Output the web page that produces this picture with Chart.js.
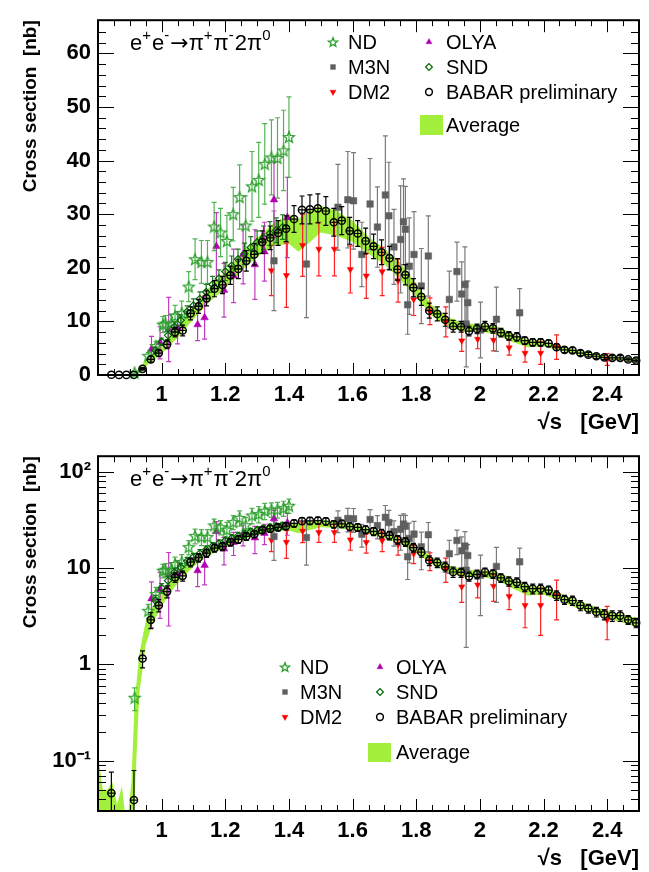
<!DOCTYPE html>
<html lang="en">
<head>
<meta charset="UTF-8" />
<title>e+e- to pi+pi-2pi0 cross section</title>
<script src="https://cdn.jsdelivr.net/npm/chart.js"></script>
<style>
  body { margin: 0; background: #fff; }
  canvas { display: block; }
</style>
</head>
<body>
<canvas id="linPad" width="649" height="436"></canvas>
<canvas id="logPad" width="649" height="436"></canvas>
<script>
// ---- data (sqrt(s) in GeV, cross section in nb) ----
const babarE = [0.842,0.866,0.889,0.913,0.940,0.966,0.991,1.017,1.042,1.066,
  1.091,1.116,1.141,1.166,1.191,1.216,1.241,1.266,1.291,1.316,
  1.341,1.366,1.391,1.416,1.441,1.466,1.491,1.516,1.541,1.566,
  1.591,1.616,1.641,1.666,1.691,1.716,1.741,1.766,1.791,1.816,
  1.841,1.866,1.891,1.916,1.941,1.966,1.991,2.016,2.041,2.066,
  2.091,2.116,2.141,2.166,2.191,2.216,2.241,2.266,2.291,2.316,
  2.341,2.366,2.391,2.416,2.441,2.466,2.491];
const babarXS = [0.046,0.02,0.02,0.039,1.15,2.9,4.1,5.7,8.0,8.3,
  11.5,12.8,14.3,16.1,16.8,18.6,19.8,21.3,22.5,24.8,
  25.6,26.5,27.3,29.1,30.8,30.9,31.1,30.6,28.5,28.8,
  26.9,26.4,25.0,24.0,22.9,21.8,19.7,18.7,16.3,14.6,
  12.0,11.4,10.3,9.1,9.0,8.2,8.6,9.1,8.7,7.9,
  7.3,7.1,6.4,6.1,6.1,5.9,5.2,4.7,4.6,4.1,
  3.8,3.5,3.3,3.2,3.2,2.9,2.7];
const babarErr = [0.03,0.005,0.005,0.04,0.23,0.55,0.6,0.8,0.9,1.0,
  1.2,1.3,1.4,1.5,1.6,1.7,1.8,1.9,2.0,2.1,
  2.2,2.3,2.4,2.5,2.6,2.7,2.7,2.7,2.6,2.6,
  2.5,2.4,2.4,2.3,2.3,2.2,2.0,1.9,1.7,1.6,
  1.4,1.3,1.2,1.1,1.0,0.9,0.9,0.9,0.9,0.8,
  0.8,0.8,0.7,0.7,0.7,0.6,0.6,0.5,0.5,0.5,
  0.4,0.4,0.4,0.4,0.4,0.3,0.3];

const ndE   = [0.915,0.958,0.982,1.004,1.012,1.030,1.042,1.063,1.085,1.105,1.125,1.144,1.165,1.185,1.205,1.225,1.245,1.264,1.284,1.305,1.324,1.345,1.364,1.383,1.400];
const ndXS  = [0.45,3.6,5.4,9.4,9.6,9.6,11.0,11.6,16.5,21.6,21.1,21.1,27.7,26.6,25.0,30.0,33.2,27.9,35.2,36.4,39.4,40.6,40.5,41.9,44.4];
const ndErr = [0.12,0.6,0.9,1.5,1.5,1.8,2.0,2.2,2.8,3.8,4.0,4.0,4.5,4.5,4.8,5.0,6.0,5.5,6.5,7.0,7.5,7.0,7.5,7.5,7.5];

const m3nE   = [1.353,1.455,1.554,1.585,1.603,1.629,1.655,1.678,1.703,1.714,1.730,1.751,1.760,1.766,1.773,1.778,1.793,1.816,1.838,1.904,1.928,1.943,1.953,1.957,1.962,2.002,2.052,2.125];
const m3nXS  = [21.3,20.7,31.3,32.7,32.5,22.5,31.9,27.6,33.6,29.7,23.9,25.3,28.6,27.2,13.1,20.3,22.5,16.6,22.2,14.1,19.3,15.1,16.9,9.5,13.5,8.4,10.4,11.6];
const m3nErr = [9.3,10,8,9,9,6,8.5,7.5,11,10,7,10,8,8,5.5,9,8,7,7.5,5.3,5.5,6,7,8,4,5.2,6,4.5];

const dm2E   = [1.345,1.392,1.443,1.494,1.543,1.593,1.643,1.693,1.743,1.792,1.843,1.893,1.943,1.993,2.043,2.092,2.142,2.191,2.241,2.400];
const dm2XS  = [19.5,18.6,24.2,23.5,23.5,19.7,18.5,19.3,17.6,14.1,11.9,9.9,6.4,6.7,6.5,5.1,4.1,4.1,5.2,2.9];
const dm2Err = [4.7,6.0,5.8,5.0,5.0,4.4,4.2,4.5,4.0,3.0,2.5,2.8,2.0,1.8,2.0,1.4,1.7,2.1,2.3,1.1];

const olyaE   = [0.968,0.995,1.022,1.050,1.113,1.135,1.172,1.196,1.226,1.256,1.293,1.323,1.353,1.395];
const olyaXS  = [4.8,6.0,8.5,8.8,9.4,10.7,24.0,15.8,18.5,22.5,20.6,23.0,32.7,29.4];
const olyaErr = [2.4,3.0,6.0,3.0,3.0,4.0,6.3,5.0,5.0,5.5,6.5,5.5,7.0,7.5];

const sndE   = [0.980,1.000,1.020,1.040,1.060,1.080,1.100,1.120,1.140,1.160,1.180,1.200,1.220,1.240,1.260,1.280,1.300,1.320,1.340,1.360,1.380];
const sndXS  = [4.6,6.2,7.4,9.0,10.2,11.8,13.0,14.2,15.5,16.9,18.0,19.3,20.4,21.6,22.6,23.8,24.8,25.6,26.4,27.0,27.6];
const sndErr = [0.6,0.7,0.8,0.9,1.0,1.1,1.2,1.3,1.4,1.5,1.6,1.7,1.8,1.9,2.0,2.0,2.1,2.2,2.2,2.3,2.3];

// average band: lower and upper edges
const avgE  = [0.800,0.815,0.830,0.845,0.860,0.875,0.890,0.905,0.915,0.930,0.950,0.970,1.000,1.030,1.060,1.100,1.150,1.200,1.250,1.300,1.350,1.400,1.430,1.460,1.500,1.550,1.600,1.650,1.700,1.750,1.800,1.850,1.900,1.950,2.000,2.050,2.100,2.150,2.200,2.250,2.300,2.350,2.400,2.450,2.500];
const avgLo = [0.001,0.001,0.001,0.001,0.001,0.001,0.001,0.001,0.04,0.5,1.6,2.6,4.0,5.7,7.6,10.4,13.6,16.2,19.4,22.0,24.0,24.5,23.0,24.5,26.6,26.0,24.8,22.6,20.6,17.8,14.4,11.0,9.0,8.0,8.1,7.6,6.2,5.2,5.3,4.6,3.9,3.4,3.0,2.7,2.4];
const avgHi = [0.12,0.05,0.05,0.06,0.035,0.055,0.02,0.06,0.4,1.3,2.8,3.9,5.6,7.6,9.8,12.8,16.4,19.2,22.6,25.6,28.2,30.0,29.0,30.8,31.6,30.6,28.8,25.8,23.6,21.0,17.0,13.0,10.8,9.6,9.5,9.2,7.8,6.6,6.4,5.5,4.7,4.1,3.6,3.3,3.0];

const xTickLabels = [1, 1.2, 1.4, 1.6, 1.8, 2, 2.2, 2.4];
const linTickLabels = [0, 10, 20, 30, 40, 50, 60];
const logTickLabels = { 0.1: '10\u207b\u00b9', 1: '1', 10: '10', 100: '10\u00b2' };

const bandColor = '#a3f03c';
const font = '"Liberation Sans", Arial, Helvetica, sans-serif';

function starImage(color, size) {
  const c = document.createElement('canvas');
  c.width = size; c.height = size;
  const g = c.getContext('2d');
  const h = size / 2, R = h - 1.2;
  g.strokeStyle = color; g.lineWidth = 1.3;
  g.beginPath();
  for (let k = 0; k < 10; k++) {
    const r = k % 2 ? R * 0.43 : R;
    const a = -Math.PI / 2 + k * Math.PI / 5;
    const px = h + r * Math.cos(a), py = h + 0.5 + r * Math.sin(a);
    if (k) g.lineTo(px, py); else g.moveTo(px, py);
  }
  g.closePath(); g.stroke();
  return c;
}
const starImg = starImage('#2ca02c', 14);
const starLegend = starImage('#2ca02c', 12);

const pts = (xs, ys) => xs.map((x, i) => ({ x, y: ys[i] }));
const markerClip = { left: 6, right: 6, top: 0, bottom: 5 };

function makeDatasets() {
  return [
    { label: 'lo', data: pts(avgE, avgLo), showLine: true, pointRadius: 0, borderColor: 'rgba(0,0,0,0)', borderWidth: 0, fill: false, order: 9, clip: 0 },
    { label: 'Average', data: pts(avgE, avgHi), showLine: true, pointRadius: 0, borderColor: 'rgba(0,0,0,0)', borderWidth: 0, fill: '-1', backgroundColor: bandColor, order: 8, clip: 0 },
    { label: 'DM2', data: pts(dm2E, dm2XS), err: dm2Err, errColor: '#ff2020', pointStyle: 'triangle', rotation: 180, pointRadius: 3.6, pointBorderWidth: 0.5, pointBackgroundColor: '#ff0000', pointBorderColor: '#ff0000', order: 7, clip: markerClip },
    { label: 'M3N', data: pts(m3nE, m3nXS), err: m3nErr, errColor: '#7a7a7a', pointStyle: 'rect', pointRadius: 4.6, pointBorderWidth: 0.5, pointBackgroundColor: '#5f5f5f', pointBorderColor: '#5f5f5f', order: 6, clip: markerClip },
    { label: 'OLYA', data: pts(olyaE, olyaXS), err: olyaErr, errColor: '#c13cc1', pointStyle: 'triangle', pointRadius: 4.4, pointBorderWidth: 0.5, pointBackgroundColor: '#b000b0', pointBorderColor: '#b000b0', order: 5, clip: markerClip },
    { label: 'ND', data: pts(ndE, ndXS), err: ndErr, errColor: 'rgba(40,160,40,0.8)', pointStyle: starImg, legendStyle: starLegend, pointRadius: 5, order: 4, clip: markerClip },
    { label: 'SND', data: pts(sndE, sndXS), err: sndErr, errColor: '#1a7a1a', pointStyle: 'rectRot', pointRadius: 3.6, pointBorderWidth: 1.2, pointBackgroundColor: 'rgba(0,0,0,0)', pointBorderColor: '#006400', order: 3, clip: markerClip },
    { label: 'BABAR preliminary', data: pts(babarE, babarXS), err: babarErr, xErr: 0.0125, errColor: '#000', pointStyle: 'circle', pointRadius: 3.6, pointBorderWidth: 1.5, pointBackgroundColor: 'rgba(0,0,0,0)', pointBorderColor: '#000', order: 1, clip: markerClip }
  ];
}

// error bars drawn under each dataset's markers
const errorBars = {
  id: 'errorBars',
  beforeDatasetDraw(chart, args) {
    const ds = chart.data.datasets[args.index];
    if (!ds.err) return;
    const { ctx, chartArea: a, scales: { x, y } } = chart;
    ctx.save();
    ctx.beginPath(); ctx.rect(a.left, a.top, a.right - a.left, a.bottom - a.top); ctx.clip();
    ctx.strokeStyle = ds.errColor; ctx.lineWidth = 1.2;
    ds.data.forEach((p, i) => {
      const px = x.getPixelForValue(p.x);
      const yt = y.getPixelForValue(p.y + ds.err[i]);
      const yb = y.getPixelForValue(Math.max(p.y - ds.err[i], 1e-5));
      ctx.beginPath();
      ctx.moveTo(px, yt); ctx.lineTo(px, yb);
      ctx.moveTo(px - 2.5, yt); ctx.lineTo(px + 2.5, yt);
      ctx.moveTo(px - 2.5, yb); ctx.lineTo(px + 2.5, yb);
      if (ds.xErr) {
        const py = y.getPixelForValue(p.y);
        ctx.moveTo(x.getPixelForValue(p.x - ds.xErr), py);
        ctx.lineTo(x.getPixelForValue(p.x + ds.xErr), py);
      }
      ctx.stroke();
    });
    ctx.restore();
  }
};

// frame with inward ticks on all four sides
const frame = {
  id: 'frame',
  afterDatasetsDraw(chart, args, opts) {
    const { ctx, chartArea: a, scales: { x, y } } = chart;
    ctx.save();
    ctx.strokeStyle = '#000'; ctx.lineWidth = 1;
    ctx.beginPath();
    const tx = (v, len) => {
      const p = Math.round(x.getPixelForValue(v)) + 0.5;
      ctx.moveTo(p, a.bottom); ctx.lineTo(p, a.bottom - len);
      ctx.moveTo(p, a.top); ctx.lineTo(p, a.top + len);
    };
    const ty = (v, len) => {
      const p = Math.round(y.getPixelForValue(v)) + 0.5;
      ctx.moveTo(a.left, p); ctx.lineTo(a.left + len, p);
      ctx.moveTo(a.right, p); ctx.lineTo(a.right - len, p);
    };
    for (let v = 0.85; v < 2.5; v += 0.05) tx(v, 6);
    xTickLabels.forEach(v => tx(v, 12));
    opts.yMinor.forEach(v => ty(v, 8));
    opts.yMajor.forEach(v => ty(v, 16));
    ctx.stroke();
    ctx.lineWidth = 2;
    ctx.strokeRect(a.left, a.top, a.right - a.left, a.bottom - a.top);
    ctx.restore();
  }
};

// reaction label and legend
const labels = {
  id: 'labels',
  afterDraw(chart, args, L) {
    const ctx = chart.ctx;
    ctx.save();
    ctx.fillStyle = '#000';
    ctx.textBaseline = 'alphabetic';
    const parts = [['e', 0], ['+', 1], ['e', 0], ['-', 1], ['\u2192', 2], ['\u03c0', 0], ['+', 1], ['\u03c0', 0], ['-', 1], ['2\u03c0', 0], ['0', 1]];
    let cx = 130;
    parts.forEach(([t, kind]) => {
      ctx.font = kind === 1 ? '15px ' + font : kind === 2 ? '22px "DejaVu Sans", sans-serif' : '22px ' + font;
      ctx.fillText(t, cx, kind === 1 ? 40 : 50);
      cx += ctx.measureText(t).width + (kind === 1 ? 1 : 0);
    });

    const byLabel = {};
    chart.data.datasets.forEach(d => { byLabel[d.label] = d; });
    const entries = [
      ['ND', L.c1m, L.c1t, L.rows[0]], ['M3N', L.c1m, L.c1t, L.rows[1]], ['DM2', L.c1m, L.c1t, L.rows[2]],
      ['OLYA', L.c2m, L.c2t, L.rows[0]], ['SND', L.c2m, L.c2t, L.rows[1]], ['BABAR preliminary', L.c2m, L.c2t, L.rows[2]]
    ];
    ctx.font = '20px ' + font;
    ctx.textBaseline = 'middle';
    entries.forEach(([name, mx, tx, ry]) => {
      const d = byLabel[name];
      ctx.save();
      ctx.fillStyle = d.pointBackgroundColor || 'rgba(0,0,0,0)';
      ctx.strokeStyle = d.pointBorderColor || '#000';
      ctx.lineWidth = d.pointBorderWidth || 1;
      Chart.helpers.drawPoint(ctx, { pointStyle: d.legendStyle || d.pointStyle, rotation: d.rotation || 0, radius: Math.min(d.pointRadius, 3.4), borderWidth: d.pointBorderWidth || 1 }, mx, ry);
      ctx.restore();
      ctx.fillText(name, tx, ry + 1);
    });
    ctx.fillStyle = bandColor;
    ctx.fillRect(L.box[0], L.box[1], L.box[2], L.box[3]);
    ctx.fillStyle = '#000';
    ctx.fillText('Average', L.c2t, L.box[1] + L.box[3] / 2 + 1);
    ctx.restore();
  }
};

function makeChart(id, logY, legend) {
  const yMajor = logY ? [0.1, 1, 10, 100] : linTickLabels;
  const yMinor = [];
  if (logY) {
    [0.01, 0.1, 1, 10].forEach(d => { for (let k = 2; k <= 9; k++) if (d * k >= 0.03 && d * k <= 145) yMinor.push(d * k); });
  } else {
    for (let v = 2; v < 66; v += 2) if (v % 10) yMinor.push(v);
  }
  return new Chart(document.getElementById(id), {
    type: 'scatter',
    data: { datasets: makeDatasets() },
    plugins: [errorBars, frame, labels],
    options: {
      responsive: false,
      animation: false,
      events: [],
      layout: { padding: { top: 13, right: 10, left: 0, bottom: 0 } },
      elements: { line: { tension: 0 } },
      plugins: {
        legend: { display: false },
        tooltip: { enabled: false },
        frame: { yMajor, yMinor },
        labels: legend
      },
      scales: {
        x: {
          type: 'linear', min: 0.8, max: 2.5,
          grid: { display: false, drawTicks: false },
          border: { display: false },
          afterFit: s => { s.height = 61; },
          afterBuildTicks: s => { s.ticks = xTickLabels.map(v => ({ value: v })); },
          ticks: { padding: 7, color: '#000', font: { family: font, size: 22, weight: 'bold' }, callback: v => String(+v.toFixed(1)) },
          title: { display: true, text: '\u221as   [GeV]', align: 'end', color: '#000', padding: { top: 0, bottom: 0 }, font: { family: font, size: 22, weight: 'bold' } }
        },
        y: {
          type: logY ? 'logarithmic' : 'linear',
          min: logY ? 0.03 : 0, max: logY ? 145 : 66.2,
          grid: { display: false, drawTicks: false },
          border: { display: false },
          afterFit: s => { s.width = 98; },
          afterBuildTicks: s => { s.ticks = yMajor.map(v => ({ value: v })); },
          ticks: { padding: 7, color: '#000', font: { family: font, size: 22, weight: 'bold' },
                   callback: v => logY ? logTickLabels[v] : String(v) },
          title: { display: true, text: 'Cross section  [nb]', align: 'end', color: '#000', padding: { top: 19, bottom: 0 }, font: { family: font, size: 19, weight: 'bold' } }
        }
      }
    }
  });
}

makeChart('linPad', false, { c1m: 333, c1t: 348, c2m: 429, c2t: 446, rows: [42, 67, 92], box: [420, 115, 23, 20] });
makeChart('logPad', true, { c1m: 285, c1t: 300, c2m: 380, c2t: 396, rows: [231, 256, 281], box: [368, 307, 23, 19] });
</script>
</body>
</html>
